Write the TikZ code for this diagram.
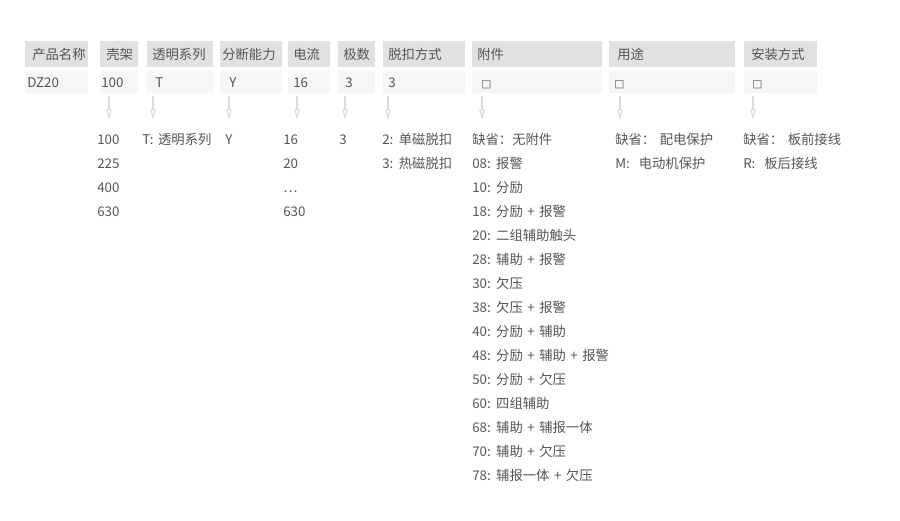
\documentclass[tikz,border=0pt]{standalone}
\usepackage{fontspec}
\setmainfont{Noto Sans CJK SC}[WordSpace=1.5]
\newfontfamily\symfont{DejaVu Sans}
\usetikzlibrary{arrows.meta}

\definecolor{headgray}{HTML}{E1E1E1}
\definecolor{cellgray}{HTML}{F6F6F6}
\definecolor{textgray}{HTML}{555555}
\definecolor{arrowgray}{HTML}{DADADA}

\tikzset{
  headbox/.style={fill=headgray, draw=none, inner sep=0pt, anchor=north west},
  cellbox/.style={fill=cellgray, draw=none, inner sep=0pt, anchor=north west},
  label/.style={anchor=base west, inner sep=0pt, text=textgray, font=\fontsize{10pt}{12pt}\selectfont},
  downarrow/.style={draw=arrowgray, line width=0.8pt, -{Triangle[open, length=8pt, width=4pt]}}
}

\begin{document}
\begin{tikzpicture}[x=0.75pt, y=-0.75pt]
    \useasboundingbox (0,0) rectangle (900,521);

    % Define the row heights
    \def\headtop{41}
    \def\cellrow{70}

    % Draw the header and value boxes
    \foreach \l/\r/\head/\hx/\val/\vx [count=\i] in {
        25/88/产品名称/7/DZ20/2,
        100/138/壳架/6/100/1,
        147/213/透明系列/5/T/8,
        220/282/分断能力/2/Y/9,
        288/330/电流/5/16/5,
        338/375/极数/5/3/7,
        383/465/脱扣方式/5/3/5,
        472/602/附件/5/{{\symfont\fontsize{8pt}{8pt}\selectfont □}}/9,
        609/735/用途/8/{{\symfont\fontsize{8pt}{8pt}\selectfont □}}/5,
        744/817/安装方式/7/{{\symfont\fontsize{8pt}{8pt}\selectfont □}}/8} {
        \node[headbox, minimum width={(\r-\l)*0.75pt}, minimum height={26*0.75pt}] (h\i) at (\l,\headtop) {};
        \node[cellbox, minimum width={(\r-\l)*0.75pt}, minimum height={23*0.75pt}] (v\i) at (\l,\cellrow) {};
        \node[label] (ht\i) at (\l+\hx,60) {\head};
        \node[label] (vt\i) at (\l+\vx,87) {\val};
    }

    % Draw the arrows below the value boxes
    \foreach \x [count=\i from 2] in {109,153,229,297,345,388,482,620,753} {
        \coordinate (a\i) at (\x,120);
        \draw[downarrow] (v\i.south -| a\i) ++(0,2) -- (a\i);
    }

    % Draw the option lists
    \foreach \x/\items [count=\i from 2] in {
        97/{100,225,400,630},
        142/{T: 透明系列},
        225/{Y},
        283/{16,20,\ldots,630},
        339/{3},
        382/{2: 单磁脱扣,3: 热磁脱扣},
        472/{缺省：无附件,08: 报警,10: 分励,18: 分励 + 报警,20: 二组辅助触头,28: 辅助 + 报警,30: 欠压,38: 欠压 + 报警,40: 分励 + 辅助,48: 分励 + 辅助 + 报警,50: 分励 + 欠压,60: 四组辅助,68: 辅助 + 辅报一体,70: 辅助 + 欠压,78: 辅报一体 + 欠压},
        615/{缺省： 配电保护,M:\ \ 电动机保护},
        743/{缺省： 板前接线,R:\ \ 板后接线}} {
        \foreach \t [count=\j] in \items {
            \node[label] (l\i-\j) at (\x,120+24*\j) {\t};
        }
    }
\end{tikzpicture}
\end{document}
